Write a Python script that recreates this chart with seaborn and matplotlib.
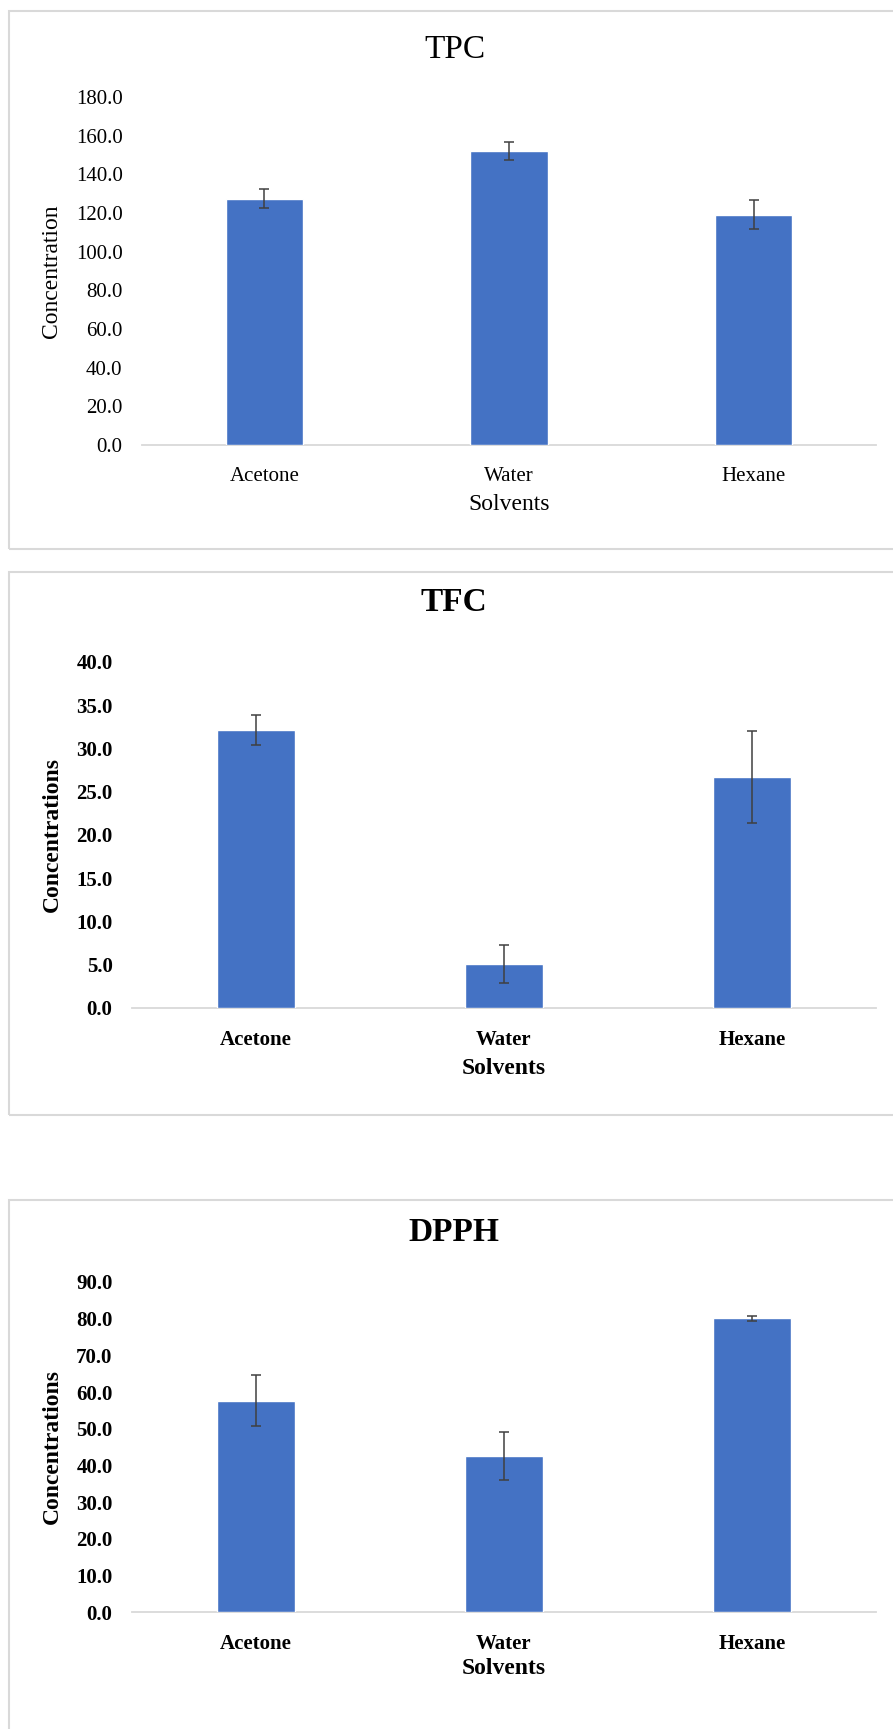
"""
Three bar charts of solvent extracts: TPC, TFC and DPPH, each with error bars.
"""

import matplotlib.pyplot as plt
import pandas as pd
import seaborn as sns
from matplotlib.patches import Rectangle

# === data ===
solvents = ["Acetone", "Water", "Hexane"]

tpc_mean = [127.5, 152.0, 119.0]
tpc_err = [4.7, 4.7, 7.5]

tfc_mean = [32.1, 5.1, 26.7]
tfc_err = [1.75, 2.2, 5.35]

dpph_mean = [57.6, 42.6, 80.1]
dpph_err = [7.0, 6.6, 0.6]

BAR_COLOR = "#4472C4"
ERR_COLOR = "#404040"
GRID_GRAY = "#D9D9D9"

W, H = 893, 1729


def fx(px):
    return px / W


def fy(px):
    # pixel from top -> figure fraction from bottom
    return 1 - px / H


def draw_panel(fig, means, errs, title, ylabel, ymax, ystep, box, ax_px, text_px, bold):
    weight = "bold" if bold else "normal"
    # panel frame (like Excel chart area)
    top, bottom = box
    fig.patches.append(Rectangle((fx(9), fy(bottom)), 1.2, (bottom - top) / H,
                                 transform=fig.transFigure, fill=False,
                                 edgecolor=GRID_GRAY, linewidth=1.5, zorder=0))

    left, right, ax_top, ax_bot = ax_px
    ax = fig.add_axes([fx(left), fy(ax_bot), (right - left) / W, (ax_bot - ax_top) / H])
    df = pd.DataFrame({"Solvent": solvents, "Value": means})
    sns.barplot(data=df, x="Solvent", y="Value", color=BAR_COLOR, width=0.315,
                saturation=1, errorbar=None, ax=ax, zorder=2)
    ax.errorbar(range(len(means)), means, yerr=errs, fmt="none", ecolor=ERR_COLOR,
                elinewidth=1.1, capsize=3.6, capthick=1.1, zorder=3)

    ax.set_xlim(-0.5, len(solvents) - 0.5)
    ax.set_ylim(0, ymax)
    ticks = [i * ystep for i in range(int(round(ymax / ystep)) + 1)]
    ax.set_yticks(ticks)
    ax.set_yticklabels([f"{t:.1f}" for t in ticks], fontsize=15, fontweight=weight)
    ax.set_xticks(range(len(solvents)))
    ax.set_xticklabels(solvents, fontsize=15, fontweight=weight)
    ax.tick_params(axis="y", length=0, pad=14, labelcolor="black")
    ax.tick_params(axis="x", length=0, pad=16, labelcolor="black")

    for side in ["top", "right", "left"]:
        ax.spines[side].set_visible(False)
    ax.spines["bottom"].set_color(GRID_GRAY)
    ax.spines["bottom"].set_linewidth(1.3)
    ax.spines["bottom"].set_zorder(1)

    ax_h = ax_bot - ax_top
    ax_w = right - left
    title_y, title_x, xlab_y, ylab_x = text_px
    ax.set_title(title, fontsize=24, fontweight=weight, pad=0, color="black",
                 x=(title_x - left) / ax_w, y=1 + (ax_top - title_y) / ax_h, va="center")
    ax.set_xlabel("Solvents", fontsize=17, fontweight=weight, color="black")
    ax.xaxis.set_label_coords(0.5, -(xlab_y - ax_bot) / ax_h)
    ax.xaxis.label.set_va("center")
    ax.set_ylabel(ylabel, fontsize=17, fontweight=weight, color="black")
    ax.yaxis.set_label_coords((ylab_x - left) / ax_w, 0.5)
    ax.yaxis.label.set_va("center")
    ax.set_facecolor("none")
    return ax


def main() -> None:
    sns.set_theme(style="white")
    plt.rcParams["font.family"] = ["Liberation Serif", "DejaVu Serif"]

    fig = plt.figure(figsize=(W / 100, H / 100), dpi=100)

    draw_panel(fig, tpc_mean, tpc_err, "TPC", "Concentration", 180, 20,
               box=(11, 549), ax_px=(142, 876, 97, 445),
               text_px=(50, 455, 505, 52), bold=False)
    draw_panel(fig, tfc_mean, tfc_err, "TFC", "Concentrations", 40, 5,
               box=(572, 1115), ax_px=(132, 876, 662, 1008),
               text_px=(603, 454, 1068, 52), bold=True)
    draw_panel(fig, dpph_mean, dpph_err, "DPPH", "Concentrations", 90, 10,
               box=(1200, 1760), ax_px=(132, 876, 1282, 1612),
               text_px=(1233, 454, 1668, 52), bold=True)

    fig.savefig("out.png", dpi=100)


if __name__ == "__main__":
    main()
